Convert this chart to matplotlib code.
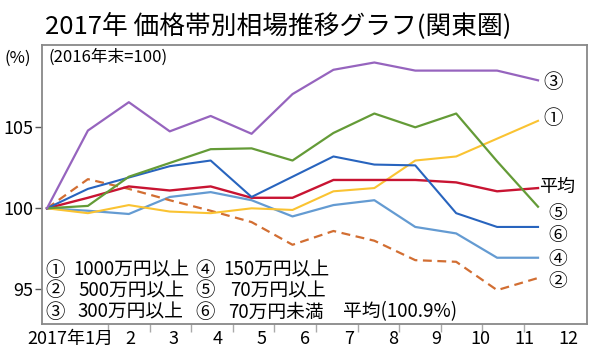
import matplotlib
matplotlib.use('Agg')
import matplotlib.pyplot as plt

plt.rcParams['font.family'] = ['Noto Sans CJK JP', 'DejaVu Sans']

## データ (2016年末=100)
points = list(range(13))
s1_1000 = [100, 99.7, 100.2, 99.8, 99.7, 100.0, 99.9, 101.05, 101.25, 102.95, 103.2, 104.3, 105.4]
s2_500 = [100, 101.8, 101.2, 100.5, 99.85, 99.15, 97.75, 98.6, 98.0, 96.8, 96.7, 94.95, 95.7]
s3_300 = [100, 104.8, 106.55, 104.75, 105.7, 104.6, 107.05, 108.55, 109.0, 108.5, 108.5, 108.5, 107.9]
s4_150 = [100, 99.85, 99.65, 100.7, 101.0, 100.5, 99.5, 100.2, 100.5, 98.85, 98.45, 96.95, 96.95]
s5_70 = [100, 100.15, 101.95, 102.8, 103.65, 103.7, 102.95, 104.65, 105.85, 105.0, 105.85, 102.9, 100.1]
s6_u70 = [100, 101.2, 101.9, 102.6, 102.95, 100.7, 101.95, 103.2, 102.7, 102.65, 99.7, 98.85, 98.85]
avg = [100, 100.65, 101.35, 101.1, 101.35, 100.65, 100.65, 101.75, 101.75, 101.75, 101.6, 101.05, 101.25]

months = ['2', '3', '4', '5', '6', '7', '8', '9', '10', '11', '12']
yticks = [95, 100, 105]

W, H = 600, 357
fig = plt.figure(figsize=(W / 100, H / 100), dpi=100)
ax = fig.add_axes([42 / W, 1 - 324 / H, (587 - 42) / W, (324 - 45) / H])

def fx(px):
    return px / W

def fy(py):
    return 1 - py / H

## 線
ax.plot(points, s4_150, color='#649bd2', lw=1.6, zorder=3)
ax.plot(points, s2_500, color='#d26e32', lw=1.6, dashes=(4, 2.5), zorder=3)
ax.plot(points, s1_1000, color='#fac332', lw=1.5, zorder=3)
ax.plot(points, avg, color='#c81432', lw=1.7, zorder=4)
ax.plot(points, s6_u70, color='#2864be', lw=1.5, zorder=4)
ax.plot(points, s5_70, color='#649b37', lw=1.6, zorder=5)
ax.plot(points, s3_300, color='#9664be', lw=1.6, zorder=5)

ax.set_xlim(-0.122, 13.197)
ax.set_ylim(92.86, 110.08)

for sp in ax.spines.values():
    sp.set_color('#888888')
    sp.set_linewidth(1.3)

## x軸 (目盛りとラベルがずれている)
ax.set_xticks([(108 + 41.6 * k - 47) / 40.92 for k in range(11)])
ax.set_xticklabels([])
ax.tick_params(axis='x', direction='out', length=6, color='#aaaaaa', width=1)
for i, m in enumerate(months):
    ax.text(2.03 + i * 1.07, -0.055, m, transform=ax.get_xaxis_transform(),
            ha='center', va='center', fontsize=13)
ax.text(1.61, -0.055, '2017年1月', transform=ax.get_xaxis_transform(),
        ha='right', va='center', fontsize=13)

## y軸
ax.set_yticks(yticks)
ax.set_yticklabels([str(v) for v in yticks], fontsize=13)
ax.tick_params(axis='y', direction='out', length=5, color='#555555', width=1, pad=1)

## タイトルなど
fig.text(fx(45), fy(26), '2017年 価格帯別相場推移グラフ(関東圏)', fontsize=18.5,
         ha='left', va='center')
fig.text(fx(18), fy(58), '(%)', fontsize=12, ha='center', va='center')
fig.text(fx(48), fy(57), '(2016年末=100)', fontsize=12, ha='left', va='center')

## 右側ラベル
right_labels = [('③', 553, 82, 14), ('①', 553, 119, 14), ('平均', 557, 187, 13),
                ('⑤', 558, 213, 13.5), ('⑥', 558, 236, 13.5), ('④', 558, 259, 13.5),
                ('②', 558, 281, 13.5)]
for t, x, y, s in right_labels:
    fig.text(fx(x), fy(y), t, fontsize=s, ha='center', va='center')

## 凡例
rows = [(270, '①', '1000万円以上', 73, '④', '150万円以上', 223),
        (291, '②', '500万円以上', 78, '⑤', '70万円以上', 230),
        (312, '③', '300万円以上', 77, '⑥', '70万円未満', 228)]
for y, c1, t1, x1, c2, t2, x2 in rows:
    fig.text(fx(55), fy(y), c1, fontsize=14, ha='center', va='center')
    fig.text(fx(x1), fy(y), t1, fontsize=13.5, ha='left', va='center')
    fig.text(fx(205), fy(y), c2, fontsize=14, ha='center', va='center')
    fig.text(fx(x2), fy(y), t2, fontsize=13.5, ha='left', va='center')
fig.text(fx(343), fy(312), '平均(100.9%)', fontsize=13.5, ha='left', va='center')

fig.savefig('out.png', dpi=100)
